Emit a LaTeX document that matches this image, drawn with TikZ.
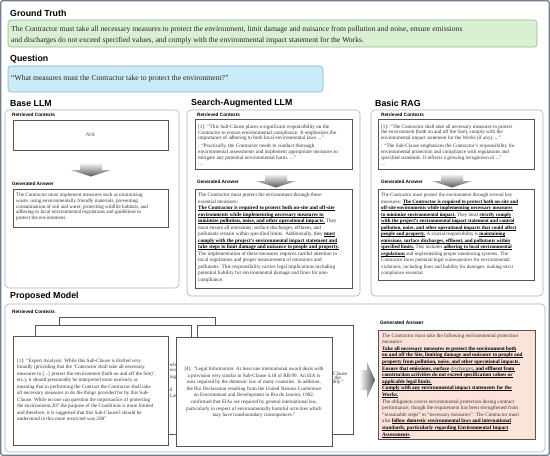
\documentclass[tikz,border=0pt]{standalone}
\usepackage{fontspec}
\setmainfont{Liberation Serif}
\setsansfont{Liberation Sans}
\usetikzlibrary{shadows}
\definecolor{framec}{HTML}{6E7F8F}
\definecolor{panelc}{HTML}{A9B3BD}
\definecolor{gtfill}{HTML}{DAF0D3}
\definecolor{gtdraw}{HTML}{94B58D}
\definecolor{qfill}{HTML}{C9ECF8}
\definecolor{qdraw}{HTML}{8FB0C0}
\definecolor{pafill}{HTML}{FBE3D9}
\definecolor{boxc}{HTML}{555555}
\definecolor{bodyc}{HTML}{333333}
\AtBeginDocument{\lineskiplimit=-100pt\relax}
\newsavebox\bubox
\newcommand\ul[1]{\sbox\bubox{#1}\rlap{\color{black}\rule[-0.8pt]{\wd\bubox}{0.33pt}}\usebox\bubox}
\newcommand\bu[1]{\ul{\textbf{\color{black}#1}}}
\newcommand\darrow[2]{%
  \shade[top color=gray!5, bottom color=gray!70!black]
    (#1-11,#2) -- (#1+11,#2) -- (#1+11,#2+7) -- (#1+20,#2+7) -- (#1,#2+13.5)
    -- (#1-20,#2+7) -- (#1-11,#2+7) -- cycle;}
\tikzset{
  every node/.append style={execute at begin node={\lineskiplimit=-100pt\relax}},
  title/.style={anchor=west, font=\sffamily\bfseries\fontsize{8.8}{10}\selectfont, inner sep=0pt},
  sublabel/.style={anchor=west, font=\sffamily\bfseries\fontsize{4.7}{5}\selectfont, inner sep=0pt},
  panel/.style={draw=panelc, line width=0.6pt, rounded corners=4pt, fill=white},
  ibox/.style={draw=boxc, line width=0.7pt, drop shadow={shadow xshift=0.8pt, shadow yshift=-0.8pt, opacity=0.35}},
  card/.style={draw=boxc, line width=0.6pt, fill=white},
  txt/.style={anchor=north west, inner sep=0pt, align=left, text=bodyc},
  small/.style={font=\fontsize{5.2}{6.5}\selectfont},
}
\begin{document}
\begin{tikzpicture}[x=1pt,y=-1pt]
\useasboundingbox (0,0) rectangle (550,456);
\fill[white] (0,0) rectangle (550,456);
\draw[framec, line width=1.3pt, rounded corners=2pt] (0.8,0.8) rectangle (549.2,455.2);

% Ground truth
\node[title] (gtt) at (10,13.5) {Ground Truth};
\draw[gtdraw, fill=gtfill, line width=0.6pt, rounded corners=3pt] (8,20) rectangle (537,47);
\node[txt, text=black!85, font=\fontsize{7.65}{11}\selectfont] (gttext) at (11,25.5)
 {The Contractor must take all necessary measures to protect the environment, limit damage and nuisance from pollution and noise, ensure emissions\\
  and discharges do not exceed specified values, and comply with the environmental impact statement for the Works.};

% Question
\node[title] (qt) at (10,59.5) {Question};
\draw[qdraw, fill=qfill, line width=0.6pt, rounded corners=3pt] (8,66) rectangle (323,92);
\node[txt, text=black!85, font=\fontsize{7.65}{11}\selectfont] (qtext) at (11,74.5)
 {“What measures must the Contractor take to protect the environment?”};

% Column titles
\node[title] (t1) at (10,103.5) {Base LLM};
\node[title] (t2) at (191,103.5) {Search-Augmented LLM};
\node[title] (t3) at (375,103.5) {Basic RAG};

% ---------- Base LLM ----------
\draw[panel] (5,110) rectangle (179,288);
\node[sublabel] (l1a) at (12,115) {Retrieved Contexts};
\draw[ibox, fill=white] (13,120) rectangle (168,150);
\node[small, text=bodyc] (na) at (90.5,135) {N/A};
\darrow{91}{163}
\node[sublabel] (l1b) at (12,184) {Generated Answer};
\draw[ibox, fill=white] (13,189) rectangle (168,227);
\node[txt, small, font=\fontsize{5.1}{5.75}\selectfont] (a1) at (16,193)
 {The Contractor must implement measures such as minimizing\\
  waste, using environmentally friendly materials, preventing\\
  contamination of soil and water, protecting wildlife habitats, and\\
  adhering to local environmental regulations and guidelines to\\
  protect the environment.};

% ---------- Search-Augmented LLM ----------
\draw[panel] (187,110) rectangle (360,296);
\node[sublabel] (l2a) at (197,114.5) {Retrieved Contexts};
\draw[ibox, fill=white] (195,119.5) rectangle (352,169.5);
\node[txt, font=\fontsize{5.2}{5.9}\selectfont] (c2) at (198,124.3)
 {[1]: “This Sub-Clause places a significant responsibility on the\\
  Contractor to ensure environmental compliance. It emphasizes the\\
  importance of adhering to both local environmental laws ...”\\
  [2]: “Practically, the Contractor needs to conduct thorough\\
  environmental assessments and implement appropriate measures to\\
  mitigate any potential environmental harm. ...”\\
  ...};
\darrow{276}{174}
\node[sublabel] (l2b) at (197,182) {Generated Answer};
\draw[ibox, fill=white] (195,189) rectangle (352,288);
\node[txt, small] (a2) at (198,193)
 {The Contractor must protect the environment through these\\
  essential measures:\\
  \bu{The Contractor is required to protect both on-site and off-site}\\
  \bu{environments while implementing necessary measures to}\\
  \bu{minimize pollution, noise, and other operational impacts.} They\\
  must ensure all emissions, surface discharges, effluent, and\\
  pollutants remain within specified limits. Additionally, they \bu{must}\\
  \bu{comply with the project's environmental impact statement and}\\
  \bu{take steps to limit damage and nuisance to people and property.}\\
  The implementation of these measures requires careful attention to\\
  local regulations and proper measurement of emissions and\\
  pollutants. This responsibility carries legal implications including\\
  potential liability for environmental damage and fines for non-\\
  compliance.};

% ---------- Basic RAG ----------
\draw[panel] (371,110) rectangle (543,296);
\node[sublabel] (l3a) at (381,114.5) {Retrieved Contexts};
\draw[ibox, fill=white] (378,119.5) rectangle (534,169.5);
\node[txt, font=\fontsize{5.1}{5.9}\selectfont] (c3) at (381,124.3)
 {[1]: “The Contractor shall take all necessary measures to protect\\
  the environment (both on and off the Site), comply with the\\
  environmental impact statement for the Works (if any), ...”\\
  [2]: “The Sub-Clause emphasizes the Contractor's responsibility for\\
  environmental protection and compliance with regulations and\\
  specified standards. It reflects a growing recognition of ...”\\
  ...};
\darrow{452}{174}
\node[sublabel] (l3b) at (381,182) {Generated Answer};
\draw[ibox, fill=white] (378,189) rectangle (534,280);
\node[txt, font=\fontsize{5.0}{6.5}\selectfont] (a3) at (381,193.3)
 {The Contractor must protect the environment through several key\\
  measures: \bu{The Contractor is required to protect both on-site and}\\
  \bu{off-site environments while implementing necessary measures}\\
  \bu{to minimize environmental impact.} They must \bu{strictly comply}\\
  \bu{with the project's environmental impact statement and control}\\
  \bu{pollution, noise, and other operational impacts that could affect}\\
  \bu{people and property.} A crucial responsibility is \bu{maintaining}\\
  \bu{emissions, surface discharges, effluent, and pollutants within}\\
  \bu{specified limits.} This includes \bu{adhering to local environmental}\\
  \bu{regulations} and implementing proper monitoring systems. The\\
  Contractor faces potential legal consequences for environmental\\
  violations, including fines and liability for damages, making strict\\
  compliance essential.};

% ---------- Proposed Model ----------
\node[title] (t4) at (10,296.5) {Proposed Model};
\draw[panel] (5,304) rectangle (545,452);
\node[sublabel] (l4a) at (12,312) {Retrieved Contexts};

% stacked cards
\draw[card] (59,317) rectangle (215,426);
\draw[card] (35,325) rectangle (191,434);
\begin{scope}[font=\fontsize{5.1}{6}\selectfont, text=bodyc, inner sep=0pt, anchor=west]
  \node (f1) at (169.5,364.5) {wh};
  \node (f2) at (169.5,370.7) {wo};
  \node (f3) at (169.5,376.9) {ing};
  \node (f4) at (169.5,389.3) {d};
  \node (f5) at (169.5,395.5) {Law};
\end{scope}
\draw[card] (197,325) rectangle (353,434);
\begin{scope}[font=\fontsize{5.1}{6}\selectfont, text=bodyc, inner sep=0pt, anchor=west]
  \node (g1) at (331.5,373.3) {-Clause};
  \node (g2) at (334.5,377.7) {the};
  \node (g3) at (331.5,381.9) {ably.”};
\end{scope}
\draw[card] (13,336) rectangle (168,445);
\node[txt, font=\fontsize{5.1}{6.5}\selectfont] (k1) at (17,358.7)
 {[1]: “Expert Analysis: While this Sub-Clause is drafted very\\
  broadly (providing that the ‘Contractor shall take all necessary\\
  measures to [...] protect the environment (both on and off the Site)’,\\
  etc.), it should presumably be interpreted more narrowly as\\
  meaning that in performing the Contract the Contractor shall take\\
  all necessary measures to do the things provided for by this Sub-\\
  Clause. While no one can question the importan5ce of protecting\\
  the environment,207 the purpose of the Conditions is more limited\\
  and therefore, it is suggested that this Sub-Clause5 should be\\
  understood in this more restricted way.208”};
\draw[card] (176,337) rectangle (332,446);
\node[inner sep=0pt, anchor=north, align=center, text=bodyc, font=\fontsize{5.1}{6.6}\selectfont] (k4) at (254,366.7)
 {[4]: “Legal Information: At least one international award deals with\\
  a provision very similar to Sub-Clause 4.18 of RB/99. An EIA is\\
  now required by the domestic law of many countries. In addition,\\
  the Rio Declaration resulting from the United Nations Conference\\
  on Environment and Development in Rio de Janeiro, 1992,\\
  confirmed that EIAs are required by general international law,\\
  particularly in respect of environmentally harmful activities which\\
  may have transboundary consequences.”};

% right arrow
\shade[left color=gray!5, right color=gray!70!black]
  (360,370) -- (367,370) -- (367,362) -- (375,380) -- (367,398) -- (367,390) -- (360,390) -- cycle;

\node[sublabel, font=\sffamily\bfseries\fontsize{4.9}{5}\selectfont] (l4b) at (380,323) {Generated Answer};
\draw[ibox, fill=pafill] (378,330) rectangle (535,439);
\node[txt, font=\fontsize{5.2}{6.6}\selectfont] (a4) at (382,333.3)
 {The Contractor must take the following environmental protection\\
  measures:\\
  \bu{Take all necessary measures to protect the environment both}\\
  \bu{on and off the Site, limiting damage and nuisance to people and}\\
  \bu{property from pollution, noise, and other operational impacts.}\\
  \bu{Ensure that emissions, surface} \ul{\textit{discharges}}\bu{, and effluent from}\\
  \bu{construction activities do not exceed specification values or}\\
  \bu{applicable legal limits.}\\
  \bu{Comply with any environmental impact statements for the}\\
  \bu{Works.}\\
  The obligation covers environmental protection during contract\\
  performance, though the requirement has been strengthened from\\
  “reasonable steps” to “necessary measures”. The Contractor must\\
  also \bu{follow domestic environmental laws and international}\\
  \bu{standards, particularly regarding Environmental Impact}\\
  \bu{Assessments}.};
\end{tikzpicture}
\end{document}
